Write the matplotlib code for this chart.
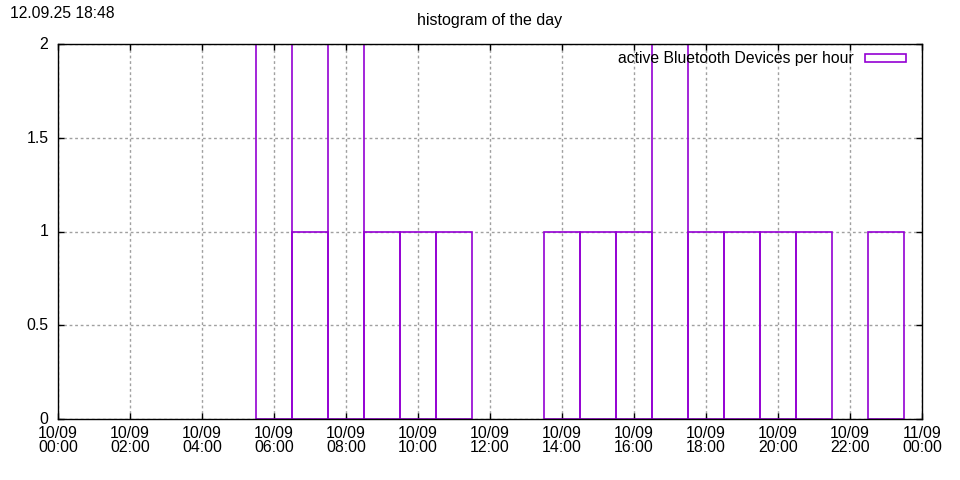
import numpy as np
import matplotlib.pyplot as plt
from matplotlib.patches import Rectangle
from matplotlib.transforms import ScaledTranslation

plt.rcParams['font.family'] = ['Liberation Sans', 'DejaVu Sans']

# devices counted per hour of 10/09
HOURS = list(range(24))
COUNTS = [0, 0, 0, 0, 0, 0, 2, 1, 2, 1, 1, 1, 0, 0, 1, 1, 1, 2, 1, 1, 1, 1, 0, 1]
TICK_HOURS = list(range(0, 25, 2))
TICK_LABELS = ["10/09\n%02d:00" % h for h in range(0, 24, 2)] + ["11/09\n00:00"]
Y_TICKS = [0, 0.5, 1, 1.5, 2]
Y_LABELS = ["0", "0.5", "1", "1.5", "2"]
STAMP = "12.09.25 18:48"
TITLE = "histogram of the day"
LEGEND = "active Bluetooth Devices per hour"

COLOR = "#9400D3"

fig = plt.figure(figsize=(9.6, 4.8), dpi=100)
ax = fig.add_axes([58 / 960, 61 / 480, 864 / 960, 375 / 480])

hours = np.array(HOURS)
counts = np.array(COUNTS)
keep = counts > 0
ax.bar(hours[keep], counts[keep], width=1.0, align="center",
       facecolor="none", edgecolor=COLOR, linewidth=1.2, zorder=2)

ax.set_xlim(0, 24)
ax.set_ylim(0, 2)
ax.set_xticks(TICK_HOURS)
ax.set_xticklabels(TICK_LABELS, fontsize=11.4, linespacing=0.9)
ax.set_yticks(Y_TICKS)
ax.set_yticklabels(Y_LABELS, fontsize=11.4)
ax.tick_params(direction="in", top=True, right=True, length=4, width=1)
ax.tick_params(axis="x", pad=5)
ax.tick_params(axis="y", pad=7)
# gnuplot puts the y labels a hair above the tick
up = ScaledTranslation(0, 1 / 100, fig.dpi_scale_trans)
for lab in ax.get_yticklabels():
    lab.set_transform(lab.get_transform() + up)
ax.grid(True, color="#a0a0a0", linestyle=(0, (2, 2)), linewidth=1)
ax.set_axisbelow(True)
for sp in ax.spines.values():
    sp.set_linewidth(1)
    sp.set_zorder(3)

handle = Rectangle((0, 0), 1, 1, facecolor="none", edgecolor=COLOR, linewidth=1.2)
leg = ax.legend([handle], [LEGEND], loc="upper right", frameon=False,
                markerfirst=False, fontsize=11.35, handlelength=2.6,
                handleheight=0.38, handletextpad=0.7,
                bbox_to_anchor=(1 - 10 / 864, 1 - 1 / 375), borderaxespad=0.0)

fig.text(490 / 960, 1 - 20 / 480, TITLE, ha="center", va="center", fontsize=11.5)
fig.text(10 / 960, 1 - 13 / 480, STAMP, ha="left", va="center", fontsize=11.3)

fig.savefig("out.png", dpi=100)
